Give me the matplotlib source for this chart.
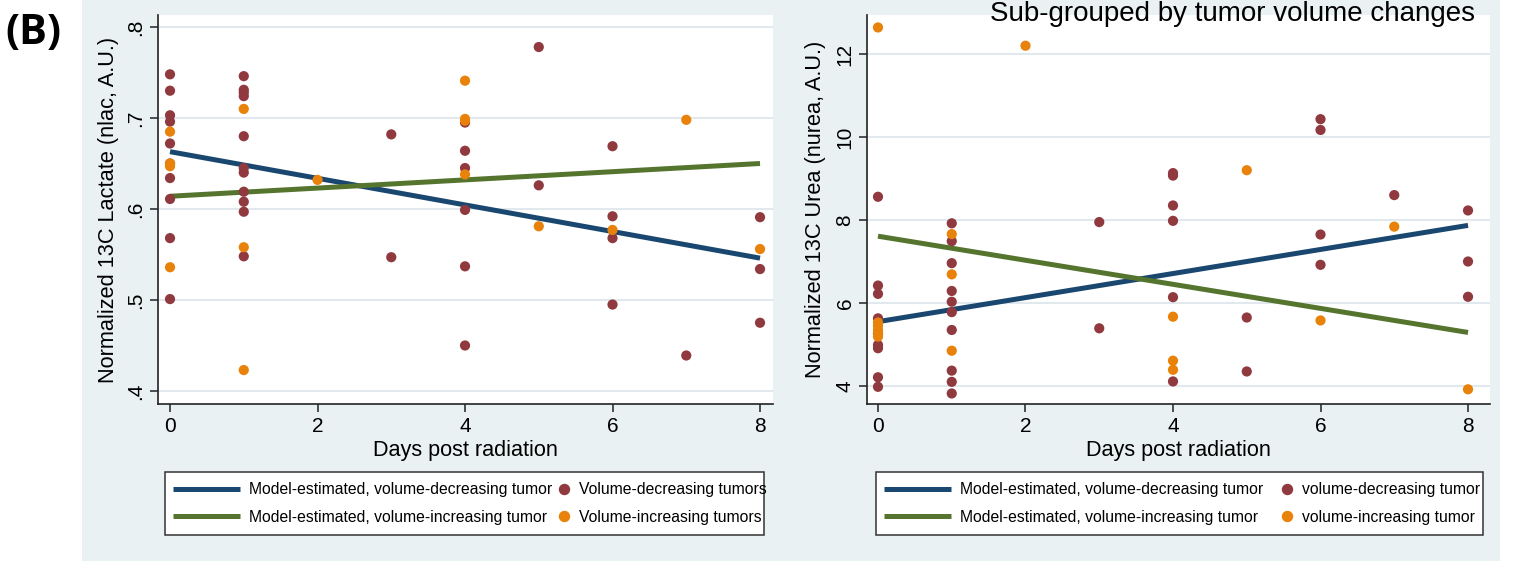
import matplotlib
matplotlib.use("Agg")
from matplotlib import pyplot as plt
from matplotlib.patches import Rectangle
from matplotlib.lines import Line2D

# ---- data ----
# left panel: normalized 13C lactate
lac_dec_days = [0]*10 + [1]*11 + [3]*2 + [4]*6 + [5]*2 + [6]*4 + [7] + [8]*3
lac_dec_vals = [.748, .730, .703, .696, .672, .650, .634, .611, .568, .501,
                .746, .731, .728, .724, .680, .645, .640, .619, .608, .597, .548,
                .682, .547,
                .695, .664, .645, .599, .537, .450,
                .778, .626,
                .669, .592, .568, .495,
                .439,
                .591, .534, .475]
lac_inc_days = [0]*4 + [1]*3 + [2] + [4]*4 + [5] + [6] + [7] + [8]
lac_inc_vals = [.685, .650, .647, .536,
                .710, .558, .423,
                .632,
                .741, .699, .697, .638,
                .581, .577, .698, .556]
lac_fit_days = [0, 8]
lac_fit_dec = [0.663, 0.546]
lac_fit_inc = [0.614, 0.650]

# right panel: normalized 13C urea
urea_dec_days = [0]*9 + [1]*10 + [3]*2 + [4]*6 + [5]*2 + [6]*4 + [7] + [8]*3
urea_dec_vals = [8.56, 6.42, 6.22, 5.63, 5.27, 4.99, 4.91, 4.21, 3.98,
                 7.92, 7.49, 6.96, 6.29, 6.03, 5.78, 5.35, 4.37, 4.10, 3.82,
                 7.95, 5.39,
                 9.13, 9.07, 8.35, 7.98, 6.14, 4.11,
                 5.65, 4.35,
                 10.43, 10.17, 7.65, 6.92,
                 8.60,
                 8.23, 7.00, 6.15]
urea_inc_days = [0]*6 + [1]*3 + [2] + [4]*3 + [5] + [6] + [7] + [8]
urea_inc_vals = [12.64, 5.53, 5.45, 5.35, 5.27, 5.19,
                 7.66, 6.69, 4.85,
                 12.2,
                 5.67, 4.61, 4.39,
                 9.2, 5.58, 7.84, 3.92]
urea_fit_days = [0, 8]
urea_fit_dec = [5.55, 7.87]
urea_fit_inc = [7.61, 5.29]

lac_ticks = [.4, .5, .6, .7, .8]
lac_ticklabels = ['.4', '.5', '.6', '.7', '.8']
urea_ticks = [4, 6, 8, 10, 12]
urea_ticklabels = ['4', '6', '8', '10', '12']
day_ticks = [0, 2, 4, 6, 8]

fit_labels = ['Model-estimated, volume-decreasing tumor', 'Model-estimated, volume-increasing tumor']
lac_dot_labels = ['Volume-decreasing tumors', 'Volume-increasing tumors']
urea_dot_labels = ['volume-decreasing tumor', 'volume-increasing tumor']

# ---- style ----
NAVY = '#1a476f'
GREEN = '#55752f'
MAROON = '#903a3f'
ORANGE = '#e8820a'
BG = '#e9f1f3'
GRID = '#e1e9ee'
FONT = ['Liberation Sans', 'DejaVu Sans']
LEGFS = 11.3

W, H = 1522, 561
fig = plt.figure(figsize=(W/100, H/100), dpi=100)
fig.patch.set_facecolor('white')


def px(x0, y0, x1, y1):
    # pixel box (top-left origin) -> figure fraction
    return [x0/W, 1 - y1/H, (x1-x0)/W, (y1-y0)/H]


fig.patches.append(Rectangle((82/W, 0), (1500-82)/W, 1, transform=fig.transFigure,
                             facecolor=BG, edgecolor='none', zorder=-10))


def panel(box, xlim, ylim, yticks, yticklabels, ylabel, ylab_x,
          dec_x, dec_y, inc_x, inc_y, fx, fdec, finc,
          frame_box, line_x, dot_x, dot_labels):
    ax = fig.add_axes(px(*box))
    ax.set_facecolor('white')
    ax.set_xlim(*xlim)
    ax.set_ylim(*ylim)
    for s in ['top', 'right']:
        ax.spines[s].set_visible(False)
    for s in ['left', 'bottom']:
        ax.spines[s].set_linewidth(1.2)
        ax.spines[s].set_color('#222222')
    ax.set_yticks(yticks)
    ax.set_yticklabels(yticklabels, rotation=90, va='center', family=FONT, fontsize=15)
    ax.set_xticks(day_ticks)
    ax.set_xticklabels([str(d) for d in day_ticks], family=FONT, fontsize=15)
    ax.tick_params(direction='out', length=6, width=1.1, color='#222222', pad=3)
    ax.grid(axis='y', color=GRID, linewidth=1.5, zorder=0)
    ax.set_axisbelow(True)
    ax.set_ylabel(ylabel, family=FONT, fontsize=15.7, va='center')
    ax.yaxis.set_label_coords(ylab_x, 0.5)
    ax.set_xlabel('Days post radiation', family=FONT, fontsize=15.6, labelpad=3)

    l1, = ax.plot(fx, fdec, color=NAVY, lw=3.6, solid_capstyle='butt', zorder=2)
    l2, = ax.plot(fx, finc, color=GREEN, lw=3.6, solid_capstyle='butt', zorder=2)
    ax.scatter(dec_x, dec_y, s=54, color=MAROON, edgecolors='none', zorder=3, clip_on=False)
    ax.scatter(inc_x, inc_y, s=54, color=ORANGE, edgecolors='none', zorder=4, clip_on=False)

    # legend: white box with black frame, lines in one column, dots in the other
    fx0, fy0, fx1, fy1 = frame_box
    fig.patches.append(Rectangle((fx0/W, 1 - fy1/H), (fx1-fx0)/W, (fy1-fy0)/H,
                                 transform=fig.transFigure, facecolor='white',
                                 edgecolor='#333333', linewidth=1.1, zorder=1))
    yc = 1 - (fy0 + fy1) / 2 / H
    common = dict(loc='center left', frameon=False, borderpad=0, borderaxespad=0,
                  labelspacing=0.8, prop={'family': FONT, 'size': LEGFS})
    fig.legend([l1, l2], fit_labels, bbox_to_anchor=(line_x/W, yc),
               handlelength=4.25, handletextpad=0.62, **common)
    h3 = Line2D([], [], marker='o', ls='none', color=MAROON, markersize=7.2)
    h4 = Line2D([], [], marker='o', ls='none', color=ORANGE, markersize=7.2)
    fig.legend([h3, h4], dot_labels, bbox_to_anchor=(dot_x/W, yc),
               handlelength=1.0, handletextpad=0.45, **common)
    return ax


ax1 = panel((158, 15, 773, 404), (-0.163, 8.176), (0.3857, 0.8132),
            lac_ticks, lac_ticklabels, 'Normalized 13C Lactate (nlac, A.U.)', -0.080,
            lac_dec_days, lac_dec_vals, lac_inc_days, lac_inc_vals,
            lac_fit_days, lac_fit_dec, lac_fit_inc,
            (165, 472, 764, 535), 173, 556, lac_dot_labels)

ax2 = panel((867, 15, 1490, 404), (-0.149, 8.298), (3.566, 12.94),
            urea_ticks, urea_ticklabels, 'Normalized 13C Urea (nurea, A.U.)', -0.083,
            urea_dec_days, urea_dec_vals, urea_inc_days, urea_inc_vals,
            urea_fit_days, urea_fit_dec, urea_fit_inc,
            (876, 472, 1483, 535), 884, 1279, urea_dot_labels)

fig.text(1475/W, 1 - 14/H, 'Sub-grouped by tumor volume changes', ha='right', va='center',
         family=FONT, fontsize=20)
fig.text(5/W, 1 - 34/H, '(B)', ha='left', va='center', family=['Open Sans', 'DejaVu Sans'],
         fontweight='bold', fontsize=30)

fig.savefig('out.png', dpi=100)
